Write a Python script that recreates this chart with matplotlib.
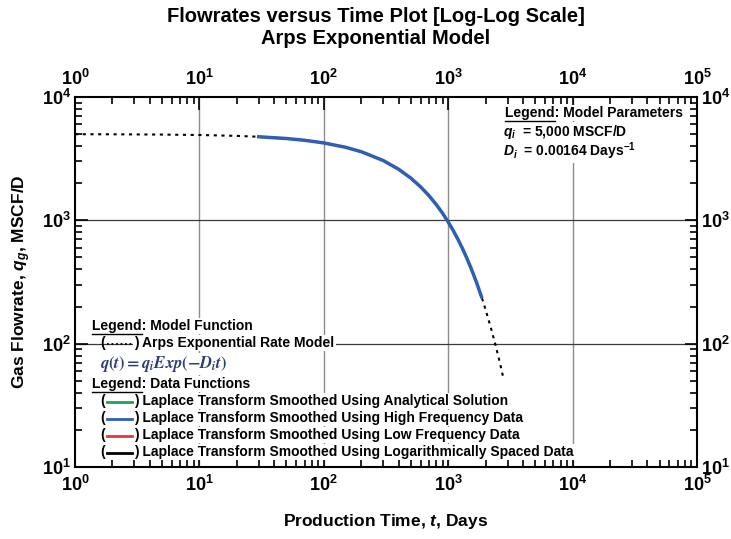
import matplotlib
matplotlib.use('Agg')
from matplotlib import pyplot as plt
from matplotlib.lines import Line2D
import numpy as np

# model curve (days, MSCF/D)
t_model = [1, 2, 5, 10, 20, 30, 50, 70, 100, 150, 200, 300, 400, 500, 600, 700, 800,
           900, 1000, 1100, 1200, 1300, 1400, 1500, 1600, 1700, 1800, 1900, 2000,
           2200, 2400, 2600, 2800]
q_model = [4992, 4984, 4959, 4919, 4838, 4759, 4606, 4457, 4243, 3909, 3602, 3057, 2594,
           2202, 1869, 1586, 1346, 1143, 970, 823, 699, 593, 503, 427, 362, 308, 261,
           222, 188, 135, 97.6, 70.3, 50.6]

# smoothed high frequency data
t_high = [30, 50, 70, 100, 150, 200, 300, 400, 500, 600, 700, 800, 900, 1000, 1100,
          1200, 1300, 1400, 1500, 1600, 1700, 1800, 1850]
q_high = [4759, 4606, 4457, 4243, 3909, 3602, 3057, 2594, 2202, 1869, 1586, 1346, 1143,
          970, 823, 699, 593, 503, 427, 362, 308, 261, 241]

data_labels = ['Laplace Transform Smoothed Using Analytical Solution',
               'Laplace Transform Smoothed Using High Frequency Data',
               'Laplace Transform Smoothed Using Low Frequency Data',
               'Laplace Transform Smoothed Using Logarithmically Spaced Data']
data_colors = ['#1fa05a', '#2f5fb3', '#e8363c', '#000000']

FONT = ['Liberation Sans', 'DejaVu Sans']
plt.rcParams['font.family'] = FONT
plt.rcParams['font.weight'] = 'bold'
plt.rcParams['axes.labelweight'] = 'bold'
plt.rcParams['mathtext.fontset'] = 'custom'
plt.rcParams['mathtext.rm'] = 'Liberation Sans:bold'
plt.rcParams['mathtext.bf'] = 'Liberation Sans:bold'
plt.rcParams['mathtext.it'] = 'Liberation Sans:bold:italic'

fig = plt.figure(figsize=(7.31, 5.39), dpi=100)
ax = fig.add_axes([75/731, 1-467/539, 622/731, 370/539])

ax.set_xscale('log')
ax.set_yscale('log')
ax.set_xlim(1, 1e5)
ax.set_ylim(10, 1e4)

for xv in [10, 100, 1000, 10000]:
    ax.axvline(xv, color='#8c8c8c', lw=1, zorder=0)
for yv in [100, 1000]:
    ax.axhline(yv, color='#3a3a3a', lw=0.9, zorder=0)

ax.plot(t_model, q_model, color='black', ls=(0, (1.5, 2.2)), lw=1.5, zorder=2)
ax.plot(t_high, q_high, color=data_colors[1], lw=2.5, zorder=3)

ax.tick_params(which='both', direction='in', top=True, right=True,
               labeltop=True, labelright=True, width=1.2)
ax.tick_params(which='major', length=9, labelsize=13, pad=6)
ax.tick_params(which='minor', length=5)
ax.yaxis.set_tick_params(which='major', pad=3)
for s in ax.spines.values():
    s.set_linewidth(1.5)

ax.set_xlabel('Production Time, $t$, Days', fontsize=12.5, labelpad=12)
ax.set_ylabel('Gas Flowrate, $q_g$, MSCF/D', fontsize=12.5, labelpad=6)

fig.text(376/731, 1-16/539, 'Flowrates versus Time Plot [Log-Log Scale]',
         ha='center', va='center', fontsize=14.5)
fig.text(376/731, 1-38/539, 'Arps Exponential Model',
         ha='center', va='center', fontsize=14.5)

renderer = fig.canvas.get_renderer()
BOX = dict(facecolor='white', edgecolor='none', pad=1)
FS = 10


def px(x, y):
    return ((x-75)/622, (467-y)/370)


def legend_head(x, y, rest, ha='left'):
    t = ax.text(*px(x, y), 'Legend' + rest, transform=ax.transAxes, fontsize=FS,
                ha=ha, va='center', bbox=BOX, zorder=5)
    full = t.get_window_extent(renderer)
    probe = ax.text(0, 0, 'Legend', fontsize=FS, transform=ax.transAxes)
    w = probe.get_window_extent(renderer).width
    probe.remove()
    inv = fig.transFigure.inverted()
    x0, y0 = inv.transform((full.x0, full.y0 - 1))
    x1, _ = inv.transform((full.x0 + w, full.y0))
    fig.add_artist(Line2D([x0, x1], [y0, y0], color='black', lw=1, zorder=6))


def legend_row(y, color, ls, label):
    ax.text(*px(100, y), '(', transform=ax.transAxes, fontsize=FS,
            ha='left', va='center', zorder=5)
    x0, yy = px(107, y + 0.5)
    x1, _ = px(132, y + 0.5)
    ax.add_line(Line2D([x0, x1], [yy, yy], transform=ax.transAxes, color=color,
                       ls=ls, lw=2 if ls == '-' else 1.3, zorder=6))
    ax.text(*px(134, y), ') ' + label, transform=ax.transAxes, fontsize=FS,
            ha='left', va='center', bbox=BOX, zorder=5)


legend_head(92, 326, ': Model Function')
legend_row(343, 'black', (0, (1, 1.5)), 'Arps Exponential Rate Model')
ax.text(*px(100, 364), r'$q(t) = q_i Exp(-D_i t)$', transform=ax.transAxes,
        fontsize=12, color='#2c3e73', math_fontfamily='stix', ha='left',
        va='center', bbox=BOX, zorder=5)
legend_head(92, 384, ': Data Functions')
for yrow, col, lab in zip([401, 418, 435, 452], data_colors, data_labels):
    legend_row(yrow, col, '-', lab)

legend_head(505, 113, ': Model Parameters')
ax.text(*px(503, 132), r'$q_i$  = 5,000 MSCF/D', transform=ax.transAxes,
        fontsize=FS, ha='left', va='center', bbox=BOX, zorder=5)
ax.text(*px(503, 151), r'$D_i$  = 0.00164 Days$^{-1}$', transform=ax.transAxes,
        fontsize=FS, ha='left', va='center', bbox=BOX, zorder=5)

fig.savefig('out.png', dpi=100)
